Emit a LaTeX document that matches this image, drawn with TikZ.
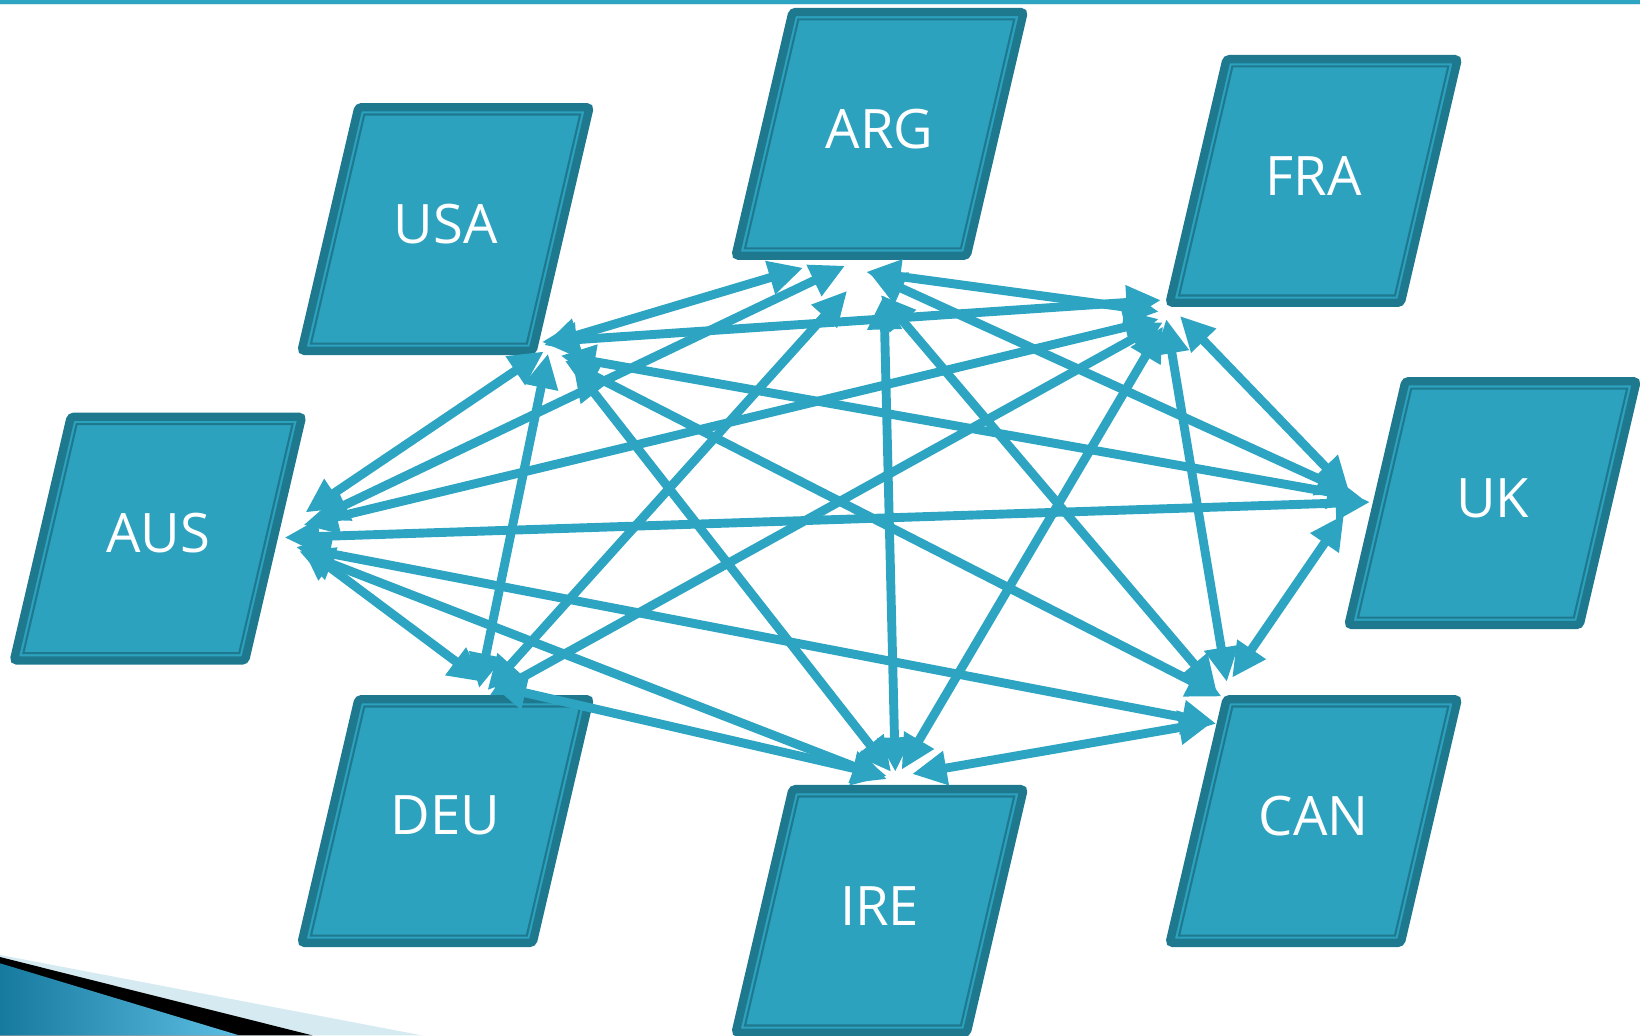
\documentclass[tikz,border=0pt]{standalone}
\usepackage{fontspec}
\setmainfont{Open Sans}
\usetikzlibrary{arrows.meta,calc}
\definecolor{boxfill}{RGB}{45,162,191}
\definecolor{boxedge}{RGB}{30,121,143}
\definecolor{arr}{RGB}{45,164,194}
\definecolor{decolight}{RGB}{214,234,242}
\definecolor{decodark}{RGB}{22,122,158}
\definecolor{decobright}{RGB}{92,190,226}
\begin{document}
\begin{tikzpicture}[x=1pt,y=-1pt,
  conn/.style={draw=arr, line width=8.5pt, {Triangle[length=33pt,width=31pt]}-{Triangle[length=33pt,width=31pt]}},
  boxouter/.style={fill=boxfill, draw=boxedge, line width=8pt, rounded corners=3pt},
  boxinner/.style={draw=boxedge, line width=2pt},
  lbl/.style={text=white, font=\fontsize{52}{60}\selectfont, inner sep=0pt}]
\useasboundingbox (0,0) rectangle (1568,990);
% top rule
\fill[arr] (0,0) rectangle (1568,3.5);
\fill[decolight] (0,3.5) rectangle (1568,5);
% bottom-left decoration
\fill[decolight] (0,913) -- (404,990) -- (0,990) -- cycle;
\fill[black] (0,915) -- (299,990) -- (0,990) -- cycle;
\shade[left color=decodark, right color=decobright] (0,921) -- (229,990) -- (0,990) -- cycle;
% boxes
\foreach \n/\cx/\cy in {USA/426/219, ARG/841/128, FRA/1256/173, UK/1427/481, CAN/1256/785, IRE/841/871, DEU/426/785, AUS/151/515}{
  \path[boxouter] (\cx-83.3,\cy-116.5) -- (\cx+137.7,\cy-116.5) -- (\cx+83.3,\cy+116.5) -- (\cx-137.7,\cy+116.5) -- cycle;
  \draw[boxinner] (\cx-77.7,\cy-109.5) -- (\cx+128.7,\cy-109.5) -- (\cx+77.7,\cy+109.5) -- (\cx-128.7,\cy+109.5) -- cycle;
  \coordinate (c-\n) at (\cx,\cy);
  \node[lbl] (\n) at (\cx,\cy-5) {\n};
}
% connectors
\draw[conn] ($(c-AUS)+(141,-25)$) -- ($(c-USA)+(94,117)$);
\draw[conn] ($(c-AUS)+(149,-18)$) -- ($(c-ARG)+(-33,126)$);
\draw[conn] ($(c-AUS)+(139,-13)$) -- ($(c-FRA)+(-148,132)$);
\draw[conn] ($(c-AUS)+(121,-1)$) -- ($(c-UK)+(-117,-1)$);
\draw[conn] ($(c-AUS)+(132,8)$) -- ($(c-CAN)+(-93,-93)$);
\draw[conn] ($(c-AUS)+(135,12)$) -- ($(c-IRE)+(7,-126)$);
\draw[conn] ($(c-AUS)+(137,7)$) -- ($(c-DEU)+(36,-133)$);
\draw[conn] ($(c-USA)+(94,111)$) -- ($(c-ARG)+(-73,128)$);
\draw[conn] ($(c-USA)+(92,108)$) -- ($(c-FRA)+(-146,114)$);
\draw[conn] ($(c-USA)+(110,121)$) -- ($(c-UK)+(-125,-5)$);
\draw[conn] ($(c-USA)+(114,126)$) -- ($(c-CAN)+(-88,-119)$);
\draw[conn] ($(c-USA)+(122,131)$) -- ($(c-IRE)+(11,-133)$);
\draw[conn] ($(c-USA)+(98,119)$) -- ($(c-DEU)+(32,-127)$);
\draw[conn] ($(c-ARG)+(-13,132)$) -- ($(c-FRA)+(-148,125)$);
\draw[conn] ($(c-ARG)+(-9,134)$) -- ($(c-UK)+(-135,-9)$);
\draw[conn] ($(c-ARG)+(1,154)$) -- ($(c-CAN)+(-93,-125)$);
\draw[conn] ($(c-ARG)+(4,154)$) -- ($(c-IRE)+(15,-133)$);
\draw[conn] ($(c-ARG)+(-31,150)$) -- ($(c-DEU)+(40,-125)$);
\draw[conn] ($(c-FRA)+(-128,129)$) -- ($(c-UK)+(-137,-11)$);
\draw[conn] ($(c-FRA)+(-141,132)$) -- ($(c-CAN)+(-83,-133)$);
\draw[conn] ($(c-FRA)+(-144,139)$) -- ($(c-IRE)+(21,-135)$);
\draw[conn] ($(c-FRA)+(-144,135)$) -- ($(c-DEU)+(42,-120)$);
\draw[conn] ($(c-UK)+(-142,11)$) -- ($(c-CAN)+(-78,-137)$);
\draw[conn] ($(c-CAN)+(-96,-95)$) -- ($(c-IRE)+(31,-131)$);
\draw[conn] ($(c-DEU)+(44,-130)$) -- ($(c-IRE)+(7,-129)$);
\end{tikzpicture}
\end{document}
